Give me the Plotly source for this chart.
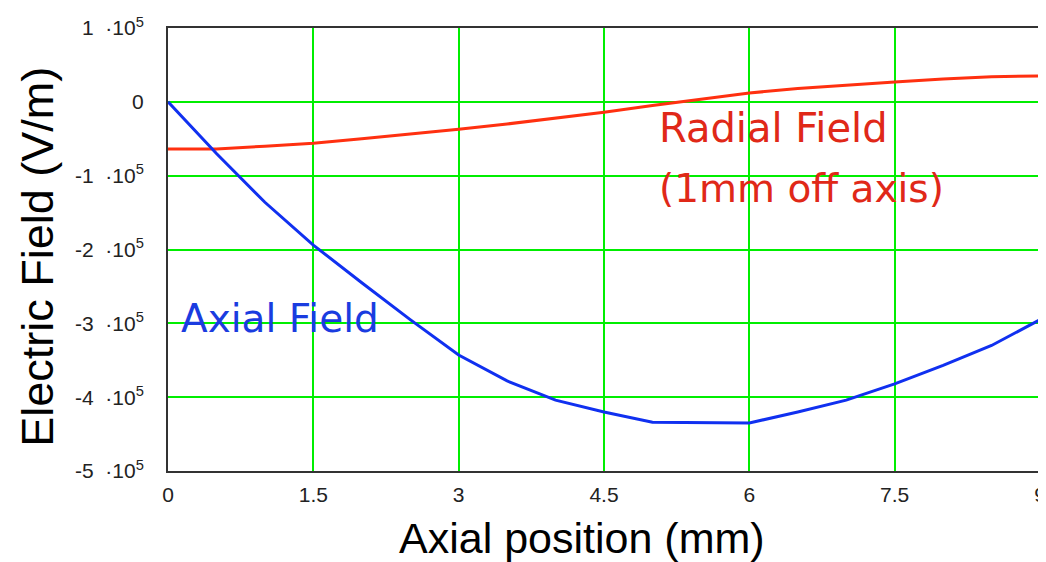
import plotly.graph_objects as go

# Axial position (mm)
x_mm = [0, 0.5, 1.0, 1.5, 2.0, 2.5, 3.0, 3.5, 4.0, 4.5, 5.0, 5.5, 6.0, 6.5, 7.0, 7.5, 8.0, 8.5, 9.0]
# Axial field (V/m)
axial_field = [0, -0.70e5, -1.36e5, -1.94e5, -2.45e5, -2.95e5, -3.43e5, -3.78e5, -4.04e5, -4.20e5,
               -4.34e5, -4.35e5, -4.35e5, -4.20e5, -4.04e5, -3.82e5, -3.57e5, -3.30e5, -2.95e5]
# Radial field 1 mm off axis (V/m)
radial_field = [-0.64e5, -0.64e5, -0.60e5, -0.56e5, -0.50e5, -0.44e5, -0.37e5, -0.30e5, -0.22e5, -0.14e5,
                -0.05e5, 0.03e5, 0.12e5, 0.18e5, 0.23e5, 0.27e5, 0.31e5, 0.34e5, 0.35e5]

x_ticks = [0, 1.5, 3, 4.5, 6, 7.5, 9]
x_tick_text = ["0", "1.5", "3", "4.5", "6", "7.5", "9"]
y_ticks = [1e5, 0, -1e5, -2e5, -3e5, -4e5, -5e5]
y_tick_text = ["1\u00a0\u00a0·10<sup>5</sup>", "0", "-1\u00a0\u00a0·10<sup>5</sup>", "-2\u00a0\u00a0·10<sup>5</sup>",
               "-3\u00a0\u00a0·10<sup>5</sup>", "-4\u00a0\u00a0·10<sup>5</sup>", "-5\u00a0\u00a0·10<sup>5</sup>"]

fig = go.Figure()
fig.add_trace(go.Scatter(x=x_mm, y=radial_field, mode="lines",
                         line=dict(color="#ff3010", width=3), name="Radial Field"))
fig.add_trace(go.Scatter(x=x_mm, y=axial_field, mode="lines",
                         line=dict(color="#1030f0", width=3), name="Axial Field"))

ann_font = "DejaVu Sans"
fig.add_annotation(x=5.05, y=-0.35e5, text="Radial Field", showarrow=False, xanchor="left", yanchor="middle",
                   font=dict(family=ann_font, size=40, color="#e02818"))
fig.add_annotation(x=5.05, y=-1.18e5, text="(1mm off axis)", showarrow=False, xanchor="left", yanchor="middle",
                   font=dict(family=ann_font, size=39, color="#e02818"))
fig.add_annotation(x=0.11, y=-2.93e5, text="Axial Field", showarrow=False, xanchor="left", yanchor="middle",
                   font=dict(family=ann_font, size=39, color="#1a3ce0"))

# axis titles placed as paper-referenced annotations to match the reference offsets
fig.add_annotation(xref="paper", yref="paper", x=0.4748, y=-0.152, text="Axial position (mm)",
                   showarrow=False, xanchor="center", yanchor="middle",
                   font=dict(family="Liberation Sans", size=43, color="black"))
fig.add_annotation(xref="paper", yref="paper", x=-0.150, y=0.484, text="Electric Field (V/m)",
                   showarrow=False, xanchor="center", yanchor="middle", textangle=-90,
                   font=dict(family="Liberation Sans", size=45, color="black"))

# page body has an 8px margin: compensate so the plot area lands at x 168..1040, y 28..471
fig.update_layout(
    width=1038, height=554,
    margin=dict(l=160, r=6, t=20, b=91),
    paper_bgcolor="white", plot_bgcolor="white",
    showlegend=False,
    font=dict(family="Liberation Sans", color="#222"),
)
fig.update_xaxes(range=[0, 9], tickvals=x_ticks, ticktext=x_tick_text, automargin=False,
                 showgrid=True, gridcolor="#00ee00", gridwidth=1.5,
                 showline=True, linecolor="#333", linewidth=2, mirror=True,
                 zeroline=False, ticks="", ticklabelstandoff=4, tickfont=dict(size=21, color="#222"))
fig.update_yaxes(range=[-5e5, 1e5], tickvals=y_ticks, ticktext=y_tick_text, automargin=False,
                 showgrid=True, gridcolor="#00ee00", gridwidth=1.5,
                 showline=True, linecolor="#333", linewidth=2, mirror=True,
                 zeroline=False, ticks="", ticklabelstandoff=18, tickfont=dict(size=21, color="#222"))

fig.write_html("out.html")
